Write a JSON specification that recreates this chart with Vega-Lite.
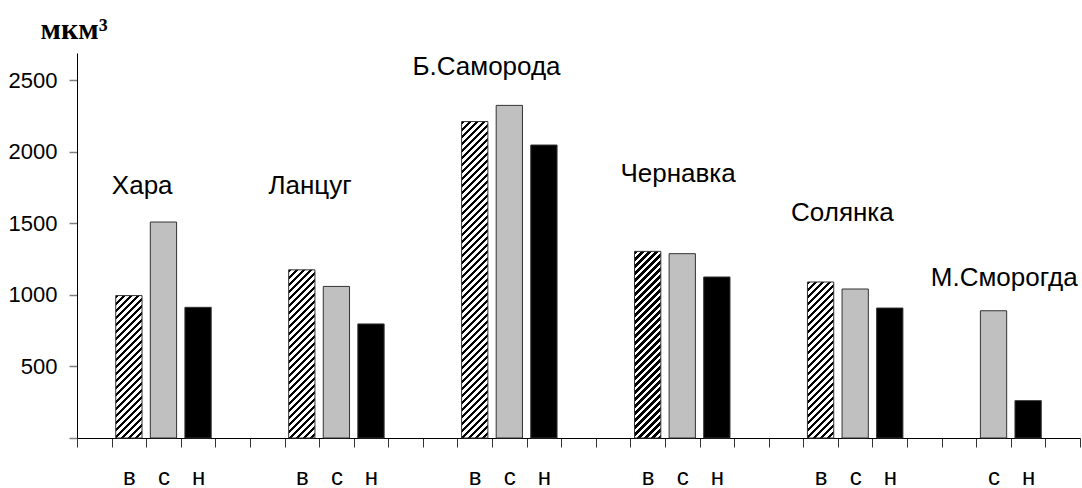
{
  "$schema": "https://vega.github.io/schema/vega-lite/v6.json",
  "width": 1003,
  "height": 385,
  "autosize": {"type": "none"},
  "padding": {"left": 77, "top": 53, "right": 2, "bottom": 50},
  "background": "white",
  "config": {"view": {"stroke": null}},
  "datasets": {
    "bars": [
      {"slot": "01в", "group": "Хара", "pos": "в", "v": 995},
      {"slot": "02с", "group": "Хара", "pos": "с", "v": 1509},
      {"slot": "03н", "group": "Хара", "pos": "н", "v": 913},
      {"slot": "06в", "group": "Ланцуг", "pos": "в", "v": 1175},
      {"slot": "07с", "group": "Ланцуг", "pos": "с", "v": 1059},
      {"slot": "08н", "group": "Ланцуг", "pos": "н", "v": 797},
      {"slot": "11в", "group": "Б.Саморода", "pos": "в", "v": 2211},
      {"slot": "12с", "group": "Б.Саморода", "pos": "с", "v": 2324},
      {"slot": "13н", "group": "Б.Саморода", "pos": "н", "v": 2047},
      {"slot": "16в", "group": "Чернавка", "pos": "в", "v": 1304},
      {"slot": "17с", "group": "Чернавка", "pos": "с", "v": 1288},
      {"slot": "18н", "group": "Чернавка", "pos": "н", "v": 1125},
      {"slot": "21в", "group": "Солянка", "pos": "в", "v": 1090},
      {"slot": "22с", "group": "Солянка", "pos": "с", "v": 1041},
      {"slot": "23н", "group": "Солянка", "pos": "н", "v": 908},
      {"slot": "26с", "group": "М.Сморогда", "pos": "с", "v": 889},
      {"slot": "27н", "group": "М.Сморогда", "pos": "н", "v": 261}
    ],
    "labels": [
      {"name": "Хара", "xc": 1.885, "yv": 1703},
      {"name": "Ланцуг", "xc": 6.74, "yv": 1703},
      {"name": "Б.Саморода", "xc": 11.84, "yv": 2533},
      {"name": "Чернавка", "xc": 17.38, "yv": 1791},
      {"name": "Солянка", "xc": 22.13, "yv": 1516},
      {"name": "М.Сморогда", "xc": 26.81, "yv": 1064}
    ]
  },
  "layer": [
    {
      "data": {"name": "bars"},
      "mark": {"type": "bar", "width": {"band": 0.76}, "stroke": "#333333", "strokeWidth": 1},
      "encoding": {
        "x": {
          "field": "slot",
          "type": "nominal",
          "sort": null,
          "scale": {
            "domain": ["00","01в","02с","03н","04","05","06в","07с","08н","09","10","11в","12с","13н","14","15","16в","17с","18н","19","20","21в","22с","23н","24","25","26с","27н","28"],
            "paddingInner": 0,
            "paddingOuter": 0
          },
          "axis": {
            "tickBand": "extent",
            "labelExpr": "isString(datum.value) ? substring(datum.value, 2) : ''",
            "labelAngle": 0,
            "labelFont": "Liberation Sans",
            "labelFontSize": 24,
            "labelColor": "#000000",
            "labelBaseline": "alphabetic",
            "labelPadding": 37,
            "labelOverlap": false,
            "tickSize": 9,
            "tickColor": "#333333",
            "domainColor": "#000000",
            "title": null,
            "grid": false
          }
        },
        "y": {
          "field": "v",
          "type": "quantitative",
          "scale": {"domain": [0, 2690], "nice": false},
          "axis": {
            "values": [0, 500, 1000, 1500, 2000, 2500],
            "format": "d",
            "labelExpr": "datum.value === 0 ? '' : datum.label",
            "grid": false,
            "tickSize": 8,
            "tickColor": "#808080",
            "tickWidth": 1.5,
            "domainColor": "#000000",
            "labelFont": "Liberation Sans",
            "labelFontSize": 22,
            "labelColor": "#000000",
            "labelPadding": 12,
            "title": "мкм³",
            "titleFont": "Liberation Serif",
            "titleFontSize": 30,
            "titleFontWeight": "bold",
            "titleColor": "#000000",
            "titleAngle": 0,
            "titleAlign": "left",
            "titleBaseline": "alphabetic",
            "titleX": -37,
            "titleY": -14.5
          }
        },
        "fill": {"value": {"expr": "datum.pos==='с' ? '#c0c0c0' : datum.pos==='н' ? '#000000' : {gradient:'linear',x1:0,y1:0,x2:9199.75/(690.9+pow(datum.v*0.143123,2)),y2:datum.v*50.093/(690.9+pow(datum.v*0.143123,2)),stops:[{offset:0,color:'#000'},{offset:0.009,color:'#000'},{offset:0.009,color:'#fff'},{offset:0.02,color:'#fff'},{offset:0.02,color:'#000'},{offset:0.029,color:'#000'},{offset:0.029,color:'#fff'},{offset:0.04,color:'#fff'},{offset:0.04,color:'#000'},{offset:0.049,color:'#000'},{offset:0.049,color:'#fff'},{offset:0.06,color:'#fff'},{offset:0.06,color:'#000'},{offset:0.069,color:'#000'},{offset:0.069,color:'#fff'},{offset:0.08,color:'#fff'},{offset:0.08,color:'#000'},{offset:0.089,color:'#000'},{offset:0.089,color:'#fff'},{offset:0.1,color:'#fff'},{offset:0.1,color:'#000'},{offset:0.109,color:'#000'},{offset:0.109,color:'#fff'},{offset:0.12,color:'#fff'},{offset:0.12,color:'#000'},{offset:0.129,color:'#000'},{offset:0.129,color:'#fff'},{offset:0.14,color:'#fff'},{offset:0.14,color:'#000'},{offset:0.149,color:'#000'},{offset:0.149,color:'#fff'},{offset:0.16,color:'#fff'},{offset:0.16,color:'#000'},{offset:0.169,color:'#000'},{offset:0.169,color:'#fff'},{offset:0.18,color:'#fff'},{offset:0.18,color:'#000'},{offset:0.189,color:'#000'},{offset:0.189,color:'#fff'},{offset:0.2,color:'#fff'},{offset:0.2,color:'#000'},{offset:0.209,color:'#000'},{offset:0.209,color:'#fff'},{offset:0.22,color:'#fff'},{offset:0.22,color:'#000'},{offset:0.229,color:'#000'},{offset:0.229,color:'#fff'},{offset:0.24,color:'#fff'},{offset:0.24,color:'#000'},{offset:0.249,color:'#000'},{offset:0.249,color:'#fff'},{offset:0.26,color:'#fff'},{offset:0.26,color:'#000'},{offset:0.269,color:'#000'},{offset:0.269,color:'#fff'},{offset:0.28,color:'#fff'},{offset:0.28,color:'#000'},{offset:0.289,color:'#000'},{offset:0.289,color:'#fff'},{offset:0.3,color:'#fff'},{offset:0.3,color:'#000'},{offset:0.309,color:'#000'},{offset:0.309,color:'#fff'},{offset:0.32,color:'#fff'},{offset:0.32,color:'#000'},{offset:0.329,color:'#000'},{offset:0.329,color:'#fff'},{offset:0.34,color:'#fff'},{offset:0.34,color:'#000'},{offset:0.349,color:'#000'},{offset:0.349,color:'#fff'},{offset:0.36,color:'#fff'},{offset:0.36,color:'#000'},{offset:0.369,color:'#000'},{offset:0.369,color:'#fff'},{offset:0.38,color:'#fff'},{offset:0.38,color:'#000'},{offset:0.389,color:'#000'},{offset:0.389,color:'#fff'},{offset:0.4,color:'#fff'},{offset:0.4,color:'#000'},{offset:0.409,color:'#000'},{offset:0.409,color:'#fff'},{offset:0.42,color:'#fff'},{offset:0.42,color:'#000'},{offset:0.429,color:'#000'},{offset:0.429,color:'#fff'},{offset:0.44,color:'#fff'},{offset:0.44,color:'#000'},{offset:0.449,color:'#000'},{offset:0.449,color:'#fff'},{offset:0.46,color:'#fff'},{offset:0.46,color:'#000'},{offset:0.469,color:'#000'},{offset:0.469,color:'#fff'},{offset:0.48,color:'#fff'},{offset:0.48,color:'#000'},{offset:0.489,color:'#000'},{offset:0.489,color:'#fff'},{offset:0.5,color:'#fff'},{offset:0.5,color:'#000'},{offset:0.509,color:'#000'},{offset:0.509,color:'#fff'},{offset:0.52,color:'#fff'},{offset:0.52,color:'#000'},{offset:0.529,color:'#000'},{offset:0.529,color:'#fff'},{offset:0.54,color:'#fff'},{offset:0.54,color:'#000'},{offset:0.549,color:'#000'},{offset:0.549,color:'#fff'},{offset:0.56,color:'#fff'},{offset:0.56,color:'#000'},{offset:0.569,color:'#000'},{offset:0.569,color:'#fff'},{offset:0.58,color:'#fff'},{offset:0.58,color:'#000'},{offset:0.589,color:'#000'},{offset:0.589,color:'#fff'},{offset:0.6,color:'#fff'},{offset:0.6,color:'#000'},{offset:0.609,color:'#000'},{offset:0.609,color:'#fff'},{offset:0.62,color:'#fff'},{offset:0.62,color:'#000'},{offset:0.629,color:'#000'},{offset:0.629,color:'#fff'},{offset:0.64,color:'#fff'},{offset:0.64,color:'#000'},{offset:0.649,color:'#000'},{offset:0.649,color:'#fff'},{offset:0.66,color:'#fff'},{offset:0.66,color:'#000'},{offset:0.669,color:'#000'},{offset:0.669,color:'#fff'},{offset:0.68,color:'#fff'},{offset:0.68,color:'#000'},{offset:0.689,color:'#000'},{offset:0.689,color:'#fff'},{offset:0.7,color:'#fff'},{offset:0.7,color:'#000'},{offset:0.709,color:'#000'},{offset:0.709,color:'#fff'},{offset:0.72,color:'#fff'},{offset:0.72,color:'#000'},{offset:0.729,color:'#000'},{offset:0.729,color:'#fff'},{offset:0.74,color:'#fff'},{offset:0.74,color:'#000'},{offset:0.749,color:'#000'},{offset:0.749,color:'#fff'},{offset:0.76,color:'#fff'},{offset:0.76,color:'#000'},{offset:0.769,color:'#000'},{offset:0.769,color:'#fff'},{offset:0.78,color:'#fff'},{offset:0.78,color:'#000'},{offset:0.789,color:'#000'},{offset:0.789,color:'#fff'},{offset:0.8,color:'#fff'},{offset:0.8,color:'#000'},{offset:0.809,color:'#000'},{offset:0.809,color:'#fff'},{offset:0.82,color:'#fff'},{offset:0.82,color:'#000'},{offset:0.829,color:'#000'},{offset:0.829,color:'#fff'},{offset:0.84,color:'#fff'},{offset:0.84,color:'#000'},{offset:0.849,color:'#000'},{offset:0.849,color:'#fff'},{offset:0.86,color:'#fff'},{offset:0.86,color:'#000'},{offset:0.869,color:'#000'},{offset:0.869,color:'#fff'},{offset:0.88,color:'#fff'},{offset:0.88,color:'#000'},{offset:0.889,color:'#000'},{offset:0.889,color:'#fff'},{offset:0.9,color:'#fff'},{offset:0.9,color:'#000'},{offset:0.909,color:'#000'},{offset:0.909,color:'#fff'},{offset:0.92,color:'#fff'},{offset:0.92,color:'#000'},{offset:0.929,color:'#000'},{offset:0.929,color:'#fff'},{offset:0.94,color:'#fff'},{offset:0.94,color:'#000'},{offset:0.949,color:'#000'},{offset:0.949,color:'#fff'},{offset:0.96,color:'#fff'},{offset:0.96,color:'#000'},{offset:0.969,color:'#000'},{offset:0.969,color:'#fff'},{offset:0.98,color:'#fff'},{offset:0.98,color:'#000'},{offset:0.989,color:'#000'},{offset:0.989,color:'#fff'},{offset:1,color:'#fff'}]}"}}
      }
    },
    {
      "data": {"name": "labels"},
      "mark": {"type": "text", "font": "Liberation Sans", "fontSize": 26, "align": "center", "baseline": "alphabetic", "color": "#000000"},
      "encoding": {
        "x": {"field": "xc", "type": "quantitative", "scale": {"domain": [0, 29], "nice": false, "zero": false}, "axis": null},
        "y": {"field": "yv", "type": "quantitative"},
        "text": {"field": "name"}
      }
    }
  ],
  "resolve": {"scale": {"x": "independent"}}
}
